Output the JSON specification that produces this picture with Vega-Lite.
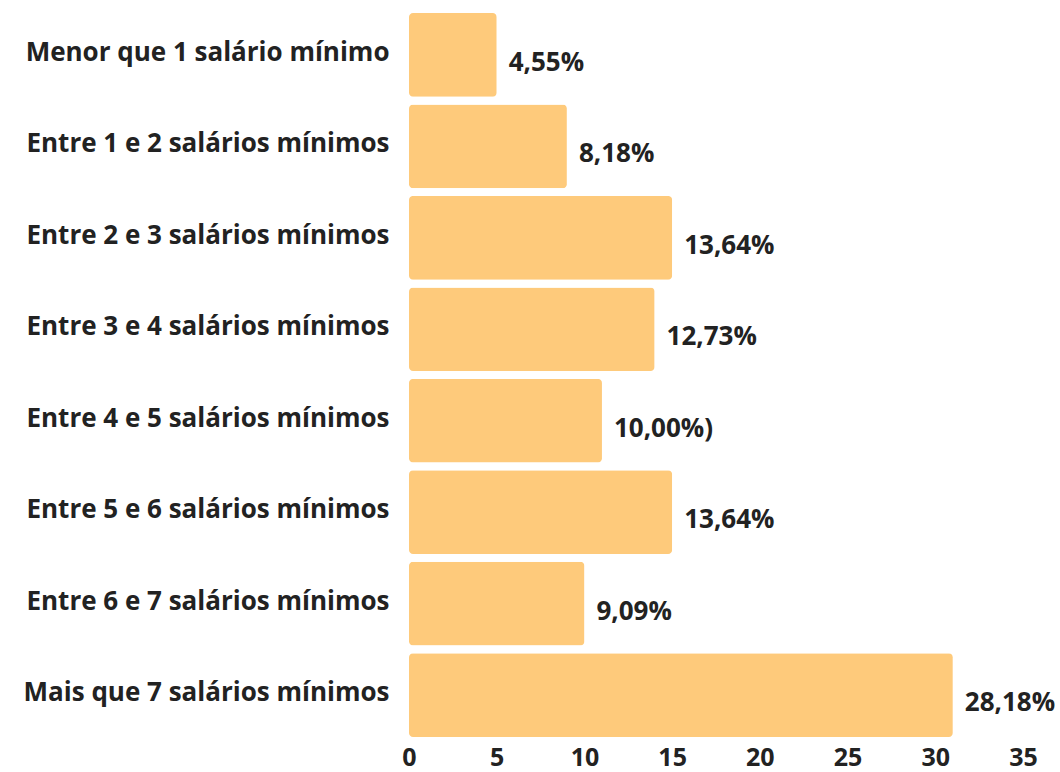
{
  "$schema": "https://vega.github.io/schema/vega-lite/v6.json",
  "width": 614,
  "height": 724,
  "autosize": {"type": "none"},
  "padding": {"left": 409, "top": 13, "right": 37, "bottom": 35},
  "background": "white",
  "config": {"view": {"stroke": null}, "font": "Open Sans"},
  "data": {
    "values": [
      {"faixa": "Menor que 1 salário mínimo", "valor": 5, "rotulo": "4,55%"},
      {"faixa": "Entre 1 e 2 salários mínimos", "valor": 9, "rotulo": "8,18%"},
      {"faixa": "Entre 2 e 3 salários mínimos", "valor": 15, "rotulo": "13,64%"},
      {"faixa": "Entre 3 e 4 salários mínimos", "valor": 14, "rotulo": "12,73%"},
      {"faixa": "Entre 4 e 5 salários mínimos", "valor": 11, "rotulo": "10,00%)"},
      {"faixa": "Entre 5 e 6 salários mínimos", "valor": 15, "rotulo": "13,64%"},
      {"faixa": "Entre 6 e 7 salários mínimos", "valor": 10, "rotulo": "9,09%"},
      {"faixa": "Mais que 7 salários mínimos", "valor": 31, "rotulo": "28,18%"}
    ]
  },
  "encoding": {
    "y": {
      "field": "faixa",
      "type": "nominal",
      "sort": null,
      "scale": {"paddingInner": 0.085, "paddingOuter": 0},
      "axis": {
        "title": null,
        "domain": false,
        "ticks": false,
        "labelFont": "Open Sans",
        "labelFontWeight": "bold",
        "labelFontSize": 26,
        "labelColor": "#222222",
        "labelPadding": 20,
        "labelOffset": -2,
        "labelLimit": 500
      }
    },
    "x": {
      "field": "valor",
      "type": "quantitative",
      "scale": {"domain": [0, 35], "nice": false},
      "axis": {
        "title": null,
        "values": [0, 5, 10, 15, 20, 25, 30, 35],
        "domain": false,
        "ticks": false,
        "grid": false,
        "labelFont": "Open Sans",
        "labelFontWeight": "bold",
        "labelFontSize": 25,
        "labelColor": "#222222",
        "labelPadding": 8,
        "labelFlush": false
      }
    }
  },
  "layer": [
    {
      "mark": {"type": "bar", "color": "#FECA7B", "cornerRadius": 4}
    },
    {
      "mark": {
        "type": "text",
        "align": "left",
        "baseline": "middle",
        "dx": 12,
        "dy": 8,
        "font": "Open Sans",
        "fontWeight": "bold",
        "fontSize": 26,
        "color": "#222222"
      },
      "encoding": {"text": {"field": "rotulo"}}
    }
  ]
}
